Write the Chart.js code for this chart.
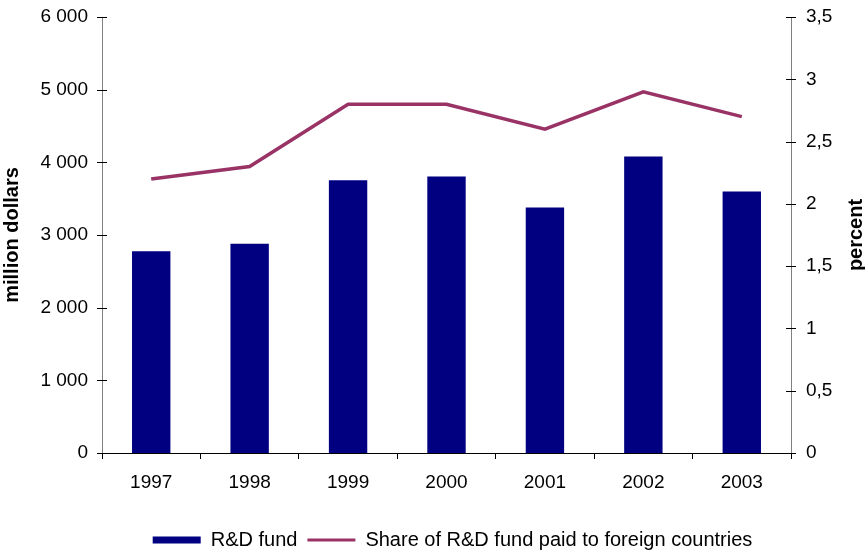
<!DOCTYPE html>
<html>
<head>
<meta charset="utf-8">
<script src="https://cdn.jsdelivr.net/npm/chart.js@4.4.1/dist/chart.umd.min.js"></script>
<style>
  html, body { margin: 0; padding: 0; background: #fff; }
  #wrap { width: 865px; height: 552px; }
</style>
</head>
<body>
<div id="wrap"><canvas id="chart"></canvas></div>
<script>
const years = ["1997", "1998", "1999", "2000", "2001", "2002", "2003"];
const fund = [2775, 2880, 3755, 3805, 3380, 4080, 3600];
const share = [2.2, 2.3, 2.8, 2.8, 2.6, 2.9, 2.7];
const leftTicks = [0, 1000, 2000, 3000, 4000, 5000, 6000];
const rightTicks = [0, 0.5, 1, 1.5, 2, 2.5, 3, 3.5];

const FONT = "'Liberation Sans', Arial, sans-serif";

function spaced(v) {
  return String(v).replace(/\B(?=(\d{3})+(?!\d))/g, " ");
}

function sideTitle(ctx, text, x, y) {
  ctx.save();
  ctx.fillStyle = "#000";
  ctx.font = "bold 20px " + FONT;
  ctx.textAlign = "center";
  ctx.textBaseline = "middle";
  ctx.translate(x, y);
  ctx.rotate(-Math.PI / 2);
  ctx.fillText(text, 0, 0);
  ctx.restore();
}

// ticks cross the axis lines, titles read bottom-to-top on both sides
const axisExtras = {
  id: "axisExtras",
  afterDraw(chart) {
    const ctx = chart.ctx;
    const a = chart.chartArea;
    ctx.save();
    ctx.strokeStyle = "#000";
    ctx.lineWidth = 1;
    const yl = chart.scales.y, yr = chart.scales.y1;
    leftTicks.forEach(function (t) {
      const py = Math.round(yl.getPixelForValue(t)) + 0.5;
      ctx.beginPath();
      ctx.moveTo(a.left - 5, py);
      ctx.lineTo(a.left + 5, py);
      ctx.stroke();
    });
    rightTicks.forEach(function (t) {
      const py = Math.round(yr.getPixelForValue(t)) + 0.5;
      ctx.beginPath();
      ctx.moveTo(a.right - 5, py);
      ctx.lineTo(a.right + 5, py);
      ctx.stroke();
    });
    ctx.restore();
    const midY = (a.top + a.bottom) / 2;
    sideTitle(ctx, "million dollars", 12, midY);
    sideTitle(ctx, "percent", 856, midY);
  }
};

new Chart(document.getElementById("chart"), {
  data: {
    labels: years,
    datasets: [
      {
        type: "line",
        label: "Share of R&D fund paid to foreign countries",
        data: share,
        yAxisID: "y1",
        borderColor: "#993366",
        backgroundColor: "#993366",
        borderWidth: 3.5,
        pointRadius: 0,
        tension: 0,
        order: 0
      },
      {
        type: "bar",
        label: "R&D fund",
        data: fund,
        yAxisID: "y",
        backgroundColor: "#000080",
        borderWidth: 0,
        categoryPercentage: 1,
        barPercentage: 0.39,
        order: 1
      }
    ]
  },
  options: {
    responsive: true,
    maintainAspectRatio: false,
    animation: false,
    layout: { padding: { top: 17, left: 40, right: 0, bottom: -8 } },
    plugins: {
      tooltip: { enabled: false },
      legend: {
        position: "bottom",
        labels: {
          color: "#000",
          font: { family: FONT, size: 20 },
          usePointStyle: true,
          pointStyleWidth: 48,
          boxHeight: 7,
          padding: 10,
          generateLabels: function (chart) {
            return [
              { text: "R&D fund", fillStyle: "#000080", strokeStyle: "#000080", lineWidth: 0, pointStyle: "rect", datasetIndex: 1 },
              { text: "Share of R&D fund paid to foreign countries", fillStyle: "#993366", strokeStyle: "#993366", lineWidth: 3, pointStyle: "line", datasetIndex: 0 }
            ];
          }
        }
      }
    },
    scales: {
      x: {
        grid: { display: true, drawOnChartArea: false, drawTicks: true, tickLength: 6, color: "#000", offset: true },
        border: { display: true, color: "#000" },
        ticks: { color: "#000", font: { family: FONT, size: 19 }, padding: 12 },
        afterFit: function (s) { s.height = 67; }
      },
      y: {
        position: "left",
        min: 0,
        max: 6000,
        grid: { display: false, drawTicks: false },
        border: { display: true, color: "#808080" },
        ticks: {
          stepSize: 1000,
          color: "#000",
          padding: 14,
          font: { family: FONT, size: 19 },
          callback: function (v) { return spaced(v); }
        },
        afterFit: function (s) { s.width = 62; s.paddingTop = 0; s.paddingBottom = 0; }
      },
      y1: {
        position: "right",
        min: 0,
        max: 3.5,
        grid: { display: false, drawTicks: false },
        border: { display: true, color: "#808080" },
        ticks: {
          stepSize: 0.5,
          color: "#000",
          padding: 15,
          font: { family: FONT, size: 19 },
          callback: function (v) { return String(v).replace(".", ","); }
        },
        afterFit: function (s) { s.width = 74; s.paddingTop = 0; s.paddingBottom = 0; }
      }
    }
  },
  plugins: [axisExtras]
});
</script>
</body>
</html>
